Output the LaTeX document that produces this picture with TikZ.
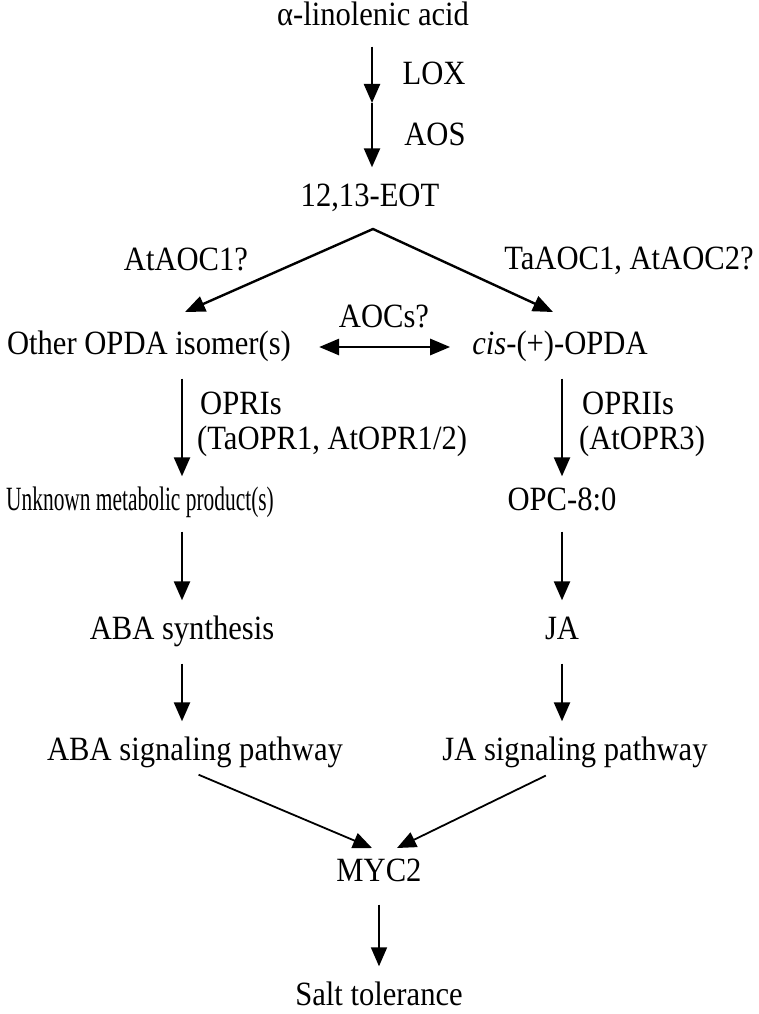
\documentclass[tikz,border=0pt]{standalone}
\usepackage{fontspec}
\setmainfont{Liberation Serif}
\usetikzlibrary{arrows.meta}

\begin{document}
\begin{tikzpicture}[x=1pt, y=-1pt,
  lbl/.style={inner sep=0pt, xscale=0.9, text height=22pt, text depth=7pt, font=\fontsize{34}{40}\selectfont},
  arr/.style={-{Triangle[width=16pt,length=19pt]}, line width=2.4pt},
  thinarr/.style={-{Triangle[width=16pt,length=19pt]}, line width=1.8pt},
  botharr/.style={{Triangle[width=16pt,length=20pt]}-{Triangle[width=16pt,length=20pt]}, line width=2.8pt}]
\useasboundingbox (0,0) rectangle (759,1014);

% common trunk
\node[lbl] (ala) at (373,18) {α-linolenic acid};
\node[lbl] (lox) at (434,77) {LOX};
\node[lbl] (aos) at (435,138) {AOS};
\node[lbl] (eot) at (370,199) {12,13-EOT};
\node[lbl] (ataoc) at (186,263) {AtAOC1?};
\node[lbl] (taaoc) at (629,262) {TaAOC1, AtAOC2?};
\node[lbl] (aocs) at (384,320) {AOCs?};
\node[lbl] (other) at (149,347) {Other OPDA isomer(s)};
\node[lbl] (cis) at (560,347) {\textit{cis}-(+)-OPDA};

% enzyme labels
\node[lbl, anchor=west] (opri) at (200,407) {OPRIs};
\node[lbl, anchor=west] (oprb) at (197,442) {(TaOPR1, AtOPR1/2)};
\node[lbl, anchor=west] (oprii) at (582,407) {OPRIIs};
\node[lbl, anchor=west] (oprib) at (579,442) {(AtOPR3)};

% two branches
\node[lbl] (unk) at (140,503) {\scalebox{0.7}[1]{Unknown metabolic product(s)}};
\node[lbl] (opc) at (562,503) {OPC-8:0};
\node[lbl] (abasyn) at (182,632) {ABA synthesis};
\node[lbl] (ja) at (562,632) {JA};
\node[lbl] (abasig) at (195,753) {ABA signaling pathway};
\node[lbl] (jasig) at (575,753) {JA signaling pathway};
\node[lbl] (myc) at (379,874) {MYC2};
\node[lbl] (salt) at (379,998) {Salt tolerance};

\coordinate (L) at (182,0);
\coordinate (R) at (562,0);
\coordinate (mid) at (372,103);
\coordinate (apex) at (373,229);
\coordinate (tipL) at (185,312);
\coordinate (tipR) at (553,312);
\coordinate (inL) at (372,848);
\coordinate (inR) at (397,848);

\draw[arr, shorten <=14pt] (ala.south -| mid) -- (mid);
\draw[arr, shorten >=17pt] (mid) -- (eot.north -| mid);
\draw[botharr, line width=2.4pt] (tipL) -- (apex) -- (tipR);
\draw[botharr, shorten <=28pt, shorten >=22pt] (other.east) -- (cis.west);

\draw[arr, shorten <=17pt, shorten >=12pt] (other.south -| L) -- (unk.north -| L);
\draw[arr, shorten <=17pt, shorten >=12pt] (cis.south -| R) -- (opc.north -| R);
\draw[arr, shorten <=14pt, shorten >=17pt] (unk.south -| L) -- (abasyn.north -| L);
\draw[arr, shorten <=14pt, shorten >=17pt] (opc.south -| R) -- (ja.north -| R);
\draw[arr, shorten <=17pt, shorten >=17pt] (abasyn.south -| L) -- (abasig.north -| L);
\draw[arr, shorten <=17pt, shorten >=17pt] (ja.south -| R) -- (jasig.north -| R);

\draw[thinarr, shorten <=18pt] (abasig.south -| L) -- (inL);
\draw[thinarr, shorten <=18pt] (jasig.south -| R) -- (inR);
\draw[thinarr, shorten <=16pt, shorten >=17pt] (myc) -- (salt);
\end{tikzpicture}
\end{document}
